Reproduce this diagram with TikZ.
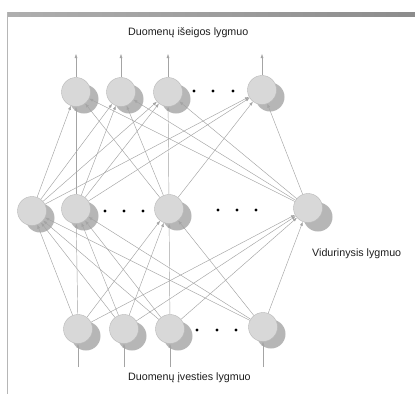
\documentclass[tikz,border=0pt]{standalone}
\usepackage{fontspec}
\setmainfont{Liberation Sans}
\usetikzlibrary{arrows.meta}
\pgfdeclarelayer{paper}
\pgfdeclarelayer{shadows}
\pgfdeclarelayer{links}
\pgfsetlayers{paper,shadows,links,main}
\definecolor{nodefill}{HTML}{D8D8D8}
\definecolor{nodeedge}{HTML}{B8B8B8}
\definecolor{shadowfill}{HTML}{B6B6B6}
\definecolor{linkgray}{HTML}{A4A4A4}
\definecolor{bandgray}{HTML}{8C8C8C}
\definecolor{labelgray}{HTML}{1E1E1E}
\tikzset{
  neuron/.style={circle, fill=nodefill, draw=nodeedge, line width=0.4pt,
    minimum size=29pt, inner sep=0pt},
  nshadow/.style={circle, fill=shadowfill, minimum size=29pt, inner sep=0pt},
  link/.style={draw=linkgray, line width=0.45pt,
    -{Latex[length=4pt,width=3pt,fill=linkgray]}},
  layerlabel/.style={anchor=west, text=labelgray, font=\fontsize{10.7}{12}\selectfont,
    inner sep=0pt},
  ellipsisdot/.style={circle, fill=black, minimum size=3.2pt, inner sep=0pt},
}
\begin{document}
\begin{tikzpicture}[x=1pt,y=-1pt]
\useasboundingbox (0,0) rectangle (415,394);
\begin{pgfonlayer}{paper}
  \fill[white] (0,0) rectangle (415,394);
  % page edge and top rule
  \fill[left color=bandgray!70, right color=bandgray] (7,12) rectangle (415,16.5);
  \draw[linkgray!80, line width=0.9pt] (7.5,12) -- (7.5,394);
\end{pgfonlayer}

% neurons: output layer
\node[neuron] (o1) at (76,92) {};
\node[neuron] (o2) at (121,92) {};
\node[neuron] (o3) at (168,92) {};
\node[neuron] (o4) at (262,90) {};
% hidden layer
\node[neuron] (h1) at (32,211) {};
\node[neuron] (h2) at (76,209) {};
\node[neuron] (h3) at (169,209) {};
\node[neuron] (h4) at (308,208) {};
% input layer
\node[neuron] (i1) at (78,329) {};
\node[neuron] (i2) at (124,329) {};
\node[neuron] (i3) at (170,329) {};
\node[neuron] (i4) at (263,327) {};

% shadows behind each neuron
\begin{pgfonlayer}{shadows}
  \foreach \n in {o1,o2,o3,o4,h1,h2,h3,i1,i2,i3,i4}
    \node[nshadow] (s\n) at ([shift={(8,7)}]\n.center) {};
  \node[nshadow] (sh4) at ([shift={(10,9)}]h4.center) {};
\end{pgfonlayer}

% free ends of the input and output lines
\coordinate (in1) at (78,367);
\coordinate (in2) at (124,367);
\coordinate (in3) at (170,367);
\coordinate (in4) at (263,367);
\coordinate (out1) at (76,54);
\coordinate (out2) at (121,54);
\coordinate (out3) at (168,54);
\coordinate (out4) at (262,54);

\begin{pgfonlayer}{links}
  \foreach \k in {1,2,3,4} {
    \draw[link] (in\k) -- (i\k);
    \draw[link] (o\k) -- (out\k);
  }
  \foreach \a in {1,2,3,4}
    \foreach \b in {1,2,3,4} {
      \draw[link] (i\a) -- (h\b);
      \draw[link] (h\a) -- (o\b);
    }
\end{pgfonlayer}

% ellipsis dots between neurons
\node[ellipsisdot] (od1) at (194,91) {};
\node[ellipsisdot] (od2) at (213,91) {};
\node[ellipsisdot] (od3) at (233,91) {};
\node[ellipsisdot] (hd1) at (105,211) {};
\node[ellipsisdot] (hd2) at (124,211) {};
\node[ellipsisdot] (hd3) at (143,211) {};
\node[ellipsisdot] (hd4) at (218,210) {};
\node[ellipsisdot] (hd5) at (237,210) {};
\node[ellipsisdot] (hd6) at (256,210) {};
\node[ellipsisdot] (id1) at (197,330) {};
\node[ellipsisdot] (id2) at (217,330) {};
\node[ellipsisdot] (id3) at (236,330) {};

% layer labels
\node[layerlabel] (lout) at (128,33) {Duomenų išeigos lygmuo};
\node[layerlabel] (lhid) at (312,254) {Vidurinysis lygmuo};
\node[layerlabel] (lin) at (128,378) {Duomenų įvesties lygmuo};
\end{tikzpicture}
\end{document}
